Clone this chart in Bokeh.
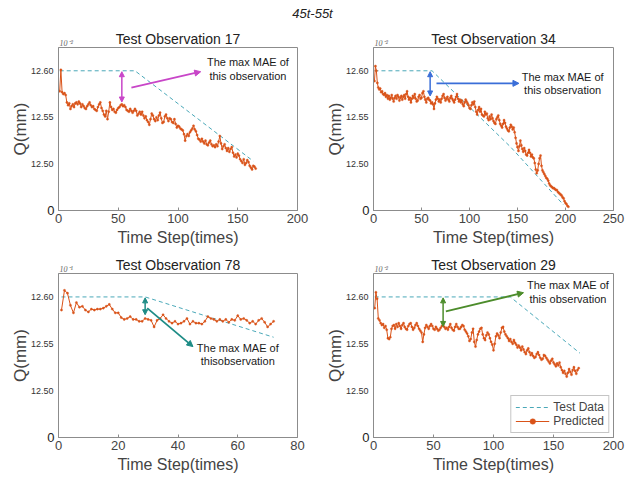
from bokeh.plotting import figure
from bokeh.models import (Range1d, FixedTicker, LinearAxis, Arrow, NormalHead, Label,
                          Legend, LegendItem, Div, ColumnDataSource, Title)
from bokeh.layouts import column, row
from bokeh.embed import file_html
from bokeh.resources import INLINE

FONT = "Liberation Sans"
PRED_COLOR = "#D95319"
TEST_COLOR = "#4AA8B8"
AXIS_COLOR = "#8c8c8c"

# ---------------- data (Q in mm) ----------------
y_tick_labels = {0: "0", 1: "12.50", 2: "12.55", 3: "12.60"}
Q_BASE = 12.45   # value sitting at the "0" tick
Q_STEP = 0.05    # value per tick interval

obs17_pred = [
    12.578, 12.601, 12.577, 12.575, 12.576, 12.574, 12.566, 12.563, 12.565, 12.559,
    12.562, 12.564, 12.561, 12.565, 12.566, 12.564, 12.567, 12.565, 12.561, 12.564,
    12.562, 12.560, 12.559, 12.562, 12.564, 12.566, 12.563, 12.561, 12.562, 12.559,
    12.558, 12.557, 12.561, 12.564, 12.566, 12.560, 12.557, 12.553, 12.551, 12.557,
    12.548, 12.556, 12.566, 12.561, 12.558, 12.559, 12.556, 12.555, 12.558, 12.560,
    12.561, 12.563, 12.564, 12.562, 12.563, 12.561, 12.558, 12.557, 12.556, 12.559,
    12.557, 12.555, 12.557, 12.559, 12.557, 12.552, 12.554, 12.556, 12.553, 12.556,
    12.552, 12.549, 12.551, 12.547, 12.545, 12.542, 12.548, 12.554, 12.552, 12.548,
    12.546, 12.550, 12.547, 12.552, 12.555, 12.549, 12.544, 12.545, 12.551, 12.553,
    12.549, 12.546, 12.549, 12.548, 12.545, 12.544, 12.548, 12.543, 12.539, 12.541,
    12.540, 12.538, 12.537, 12.536, 12.532, 12.525, 12.530, 12.532, 12.530, 12.534,
    12.536, 12.538, 12.541, 12.537, 12.535, 12.531, 12.527, 12.526, 12.524, 12.527,
    12.524, 12.522, 12.525, 12.521, 12.520, 12.523, 12.525, 12.521, 12.519, 12.520,
    12.518, 12.521, 12.519, 12.524, 12.530, 12.522, 12.516, 12.519, 12.521, 12.517,
    12.514, 12.517, 12.513, 12.516, 12.518, 12.512, 12.508, 12.510, 12.507, 12.511,
    12.509, 12.505, 12.503, 12.501, 12.505, 12.499, 12.501, 12.504, 12.502, 12.498,
    12.496, 12.494, 12.498, 12.497, 12.495,
]
obs17_test_t = [1, 64, 163]
obs17_test_q = [12.600, 12.600, 12.503]

obs34_pred = [
    12.589, 12.605, 12.600, 12.587, 12.582, 12.580, 12.581, 12.577, 12.578, 12.575,
    12.574, 12.576, 12.572, 12.574, 12.570, 12.573, 12.569, 12.571, 12.574, 12.570,
    12.567, 12.571, 12.573, 12.570, 12.574, 12.572, 12.568, 12.571, 12.573, 12.569,
    12.572, 12.574, 12.570, 12.575, 12.578, 12.572, 12.569, 12.571, 12.566, 12.570,
    12.573, 12.571, 12.575, 12.570, 12.567, 12.568, 12.572, 12.574, 12.570, 12.571,
    12.576, 12.578, 12.572, 12.569, 12.566, 12.570, 12.571, 12.569, 12.568, 12.565,
    12.566, 12.564, 12.559, 12.565, 12.569, 12.572, 12.570, 12.567, 12.569, 12.566,
    12.570, 12.573, 12.575, 12.571, 12.568, 12.570, 12.572, 12.569, 12.567, 12.571,
    12.573, 12.570, 12.568, 12.566, 12.569, 12.572, 12.575, 12.570, 12.567, 12.569,
    12.566, 12.568, 12.564, 12.562, 12.566, 12.569, 12.567, 12.565, 12.563, 12.560,
    12.559, 12.563, 12.566, 12.564, 12.567, 12.561, 12.556, 12.553, 12.558, 12.561,
    12.556, 12.559, 12.553, 12.552, 12.551, 12.556, 12.553, 12.554, 12.549, 12.547,
    12.551, 12.548, 12.553, 12.549, 12.546, 12.544, 12.543, 12.548, 12.550, 12.552,
    12.547, 12.543, 12.541, 12.539, 12.543, 12.547, 12.544, 12.540, 12.538, 12.536,
    12.535, 12.539, 12.542, 12.540, 12.537, 12.539, 12.534, 12.528, 12.522, 12.518,
    12.514, 12.519, 12.525, 12.520, 12.516, 12.513, 12.517, 12.514, 12.510, 12.509,
    12.512, 12.515, 12.512, 12.508, 12.510, 12.507, 12.506, 12.501, 12.494, 12.490,
    12.493, 12.500, 12.506, 12.509, 12.498, 12.493, 12.491, 12.489, 12.487, 12.485,
    12.484, 12.482, 12.479, 12.477, 12.476, 12.475, 12.474, 12.474, 12.473, 12.472,
    12.472, 12.470, 12.469, 12.468, 12.467, 12.466, 12.464, 12.463, 12.460, 12.458,
    12.457, 12.455, 12.454,
]
obs34_test_t = [1, 61, 143, 198]
obs34_test_q = [12.600, 12.600, 12.518, 12.456]

obs78_pred = [
    12.586, 12.607, 12.604, 12.591, 12.583, 12.594, 12.589, 12.590, 12.586, 12.584,
    12.587, 12.586, 12.587, 12.587, 12.588, 12.590, 12.592, 12.587, 12.583, 12.583,
    12.578, 12.576, 12.577, 12.579, 12.576, 12.576, 12.574, 12.574, 12.577, 12.576,
    12.575, 12.568, 12.575, 12.577, 12.581, 12.577, 12.574, 12.572, 12.574, 12.571,
    12.572, 12.574, 12.577, 12.571, 12.574, 12.572, 12.572, 12.571, 12.574, 12.579,
    12.577, 12.576, 12.574, 12.576, 12.574, 12.576, 12.573, 12.576, 12.575, 12.580,
    12.576, 12.577, 12.575, 12.572, 12.574, 12.571, 12.575, 12.577, 12.573, 12.568,
    12.571, 12.574,
]
obs78_test_t = [1, 29, 72]
obs78_test_q = [12.600, 12.600, 12.557]

obs29_pred = [
    12.588, 12.605, 12.598, 12.577, 12.575, 12.572, 12.570, 12.571, 12.567, 12.569,
    12.565, 12.556, 12.555, 12.557, 12.566, 12.569, 12.570, 12.566, 12.571, 12.568,
    12.572, 12.569, 12.566, 12.570, 12.572, 12.568, 12.566, 12.565, 12.569, 12.571,
    12.572, 12.568, 12.565, 12.567, 12.570, 12.572, 12.569, 12.566, 12.564, 12.562,
    12.552, 12.560, 12.567, 12.570, 12.568, 12.566, 12.569, 12.571, 12.569, 12.566,
    12.565, 12.568, 12.566, 12.564, 12.565, 12.567, 12.569, 12.570, 12.568, 12.566,
    12.567, 12.565, 12.568, 12.571, 12.567, 12.565, 12.564, 12.568, 12.571, 12.568,
    12.566, 12.566, 12.568, 12.570, 12.569, 12.565, 12.563, 12.561, 12.558, 12.553,
    12.555, 12.562, 12.566, 12.552, 12.547, 12.554, 12.560, 12.563, 12.566, 12.567,
    12.560, 12.556, 12.554, 12.559, 12.562, 12.560, 12.556, 12.552, 12.549, 12.543,
    12.550, 12.558, 12.561, 12.559, 12.556, 12.562, 12.567, 12.568, 12.563, 12.560,
    12.558, 12.556, 12.553, 12.555, 12.552, 12.550, 12.554, 12.551, 12.549, 12.546,
    12.548, 12.546, 12.543, 12.547, 12.544, 12.541, 12.539, 12.543, 12.545, 12.541,
    12.538, 12.540, 12.537, 12.535, 12.536, 12.539, 12.541, 12.538, 12.535, 12.533,
    12.534, 12.538, 12.537, 12.535, 12.533, 12.531, 12.529, 12.532, 12.534, 12.530,
    12.528, 12.526, 12.529, 12.527, 12.530, 12.525, 12.522, 12.519, 12.521, 12.518,
    12.515, 12.519, 12.523, 12.520, 12.517, 12.522, 12.525, 12.521, 12.518, 12.522,
    12.524,
]
obs29_test_t = [1, 114, 172]
obs29_test_q = [12.600, 12.600, 12.540]


def pos(q):
    """Q value -> position on the evenly spaced tick axis."""
    return [(v - Q_BASE) / Q_STEP for v in q]


def make_fig(title, x_end, x_ticks, pred, test_t, test_q, exp_text,
             width, height, b_left, b_right, b_top, b_bottom):
    p = figure(width=width, height=height, x_range=Range1d(0, x_end), y_range=Range1d(0, 3.5),
               output_backend="svg", toolbar_location=None,
               min_border_left=b_left, min_border_right=b_right,
               min_border_top=b_top, min_border_bottom=b_bottom)
    # small exponent note just above the frame (inner "above" panel)
    p.add_layout(Title(text=exp_text, align="left", offset=1, standoff=0,
                       text_font="Liberation Serif", text_font_size="8px",
                       text_font_style="italic", text_color="#666666"), "above")
    p.title.text = title
    p.title.align = "center"
    p.title.text_font = FONT
    p.title.text_font_size = "14px"
    p.title.text_font_style = "normal"
    p.title.text_color = "#222222"
    p.title.standoff = -20
    p.grid.visible = False
    p.outline_line_color = AXIS_COLOR
    p.background_fill_color = "white"
    p.border_fill_color = "white"

    xa = p.xaxis[0]
    xa.ticker = FixedTicker(ticks=x_ticks)
    xa.axis_label = "Time Step(times)"
    xa.axis_label_text_font = FONT
    xa.axis_label_text_font_size = "16px"
    xa.axis_label_text_font_style = "normal"
    xa.axis_label_standoff = 3
    xa.major_label_text_font = FONT
    xa.major_label_text_font_size = "13px"
    xa.major_label_standoff = 3
    xa.major_tick_in = 3
    xa.major_tick_out = 0
    xa.minor_tick_line_color = None
    xa.axis_line_color = AXIS_COLOR
    xa.major_tick_line_color = AXIS_COLOR

    # inner left axis: only the "0" tick label, in the larger font
    ya = p.yaxis[0]
    ya.ticker = FixedTicker(ticks=[0])
    ya.major_label_overrides = {0: y_tick_labels[0]}
    ya.major_label_text_font = FONT
    ya.major_label_text_font_size = "13px"
    ya.major_label_text_color = "#222222"
    ya.major_label_standoff = 4
    ya.major_tick_in = 0
    ya.major_tick_out = 0
    ya.minor_tick_line_color = None
    ya.axis_line_color = AXIS_COLOR

    # outer left axis: the small 12.xx labels and the axis title
    oa = LinearAxis(ticker=FixedTicker(ticks=[1, 2, 3]),
                    major_label_overrides={k: v for k, v in y_tick_labels.items() if k != 0},
                    major_label_text_font=FONT, major_label_text_font_size="9px",
                    major_label_text_color="#333333", major_label_standoff=-9,
                    major_tick_in=0, major_tick_out=0, minor_tick_line_color=None,
                    axis_line_color=None, major_tick_line_color=None,
                    axis_label="Q(mm)", axis_label_text_font=FONT,
                    axis_label_text_font_size="17px", axis_label_text_font_style="normal",
                    axis_label_standoff=-2)
    p.add_layout(oa, "left")

    t = list(range(1, len(pred) + 1))
    src = ColumnDataSource(dict(t=t, y=pos(pred)))
    tsrc = ColumnDataSource(dict(t=test_t, y=pos(test_q)))
    r_test = p.line("t", "y", source=tsrc, line_color=TEST_COLOR, line_width=1, line_dash="4 3")
    r_line = p.line("t", "y", source=src, line_color=PRED_COLOR, line_width=1)
    r_dot = p.scatter("t", "y", source=src, size=2.2, fill_color=PRED_COLOR,
                      line_color=PRED_COLOR, line_width=0.4)
    return p, r_test, r_line, r_dot


def add_mae(p, color, vx, vtop, vbot, ax0, ay0, ax1, ay1, tx, ty1, ty2, lines):
    p.add_layout(Arrow(start=NormalHead(size=5, fill_color=color, line_color=color),
                       end=NormalHead(size=5, fill_color=color, line_color=color),
                       x_start=vx, y_start=vtop, x_end=vx, y_end=vbot,
                       line_color=color, line_width=1.5))
    p.add_layout(Arrow(end=NormalHead(size=6, fill_color=color, line_color=color),
                       x_start=ax0, y_start=ay0, x_end=ax1, y_end=ay1,
                       line_color=color, line_width=1.8))
    for txt, ty in zip(lines, (ty1, ty2)):
        p.add_layout(Label(x=tx, y=ty, text=txt, text_align="center", text_baseline="middle",
                           text_font=FONT, text_font_size="11px", text_color="#1a1a1a"))


# ---------------- layout geometry ----------------
TOP_H, BOT_H = 228, 225
L_W, R_W = 312, 313

p1, *_ = make_fig("Test Observation 17", 200, [0, 50, 100, 150, 200], obs17_pred,
                  obs17_test_t, obs17_test_q, "10⁻²", L_W, TOP_H, 58, 15, 23, 42)
add_mae(p1, "#C846C8", 53, 2.98, 2.33, 61, 2.64, 119, 2.98, 158.5, 3.18, 2.89,
        ["The max MAE of", "this observation"])

p2, *_ = make_fig("Test Observation 34", 250, [0, 50, 100, 150, 200, 250], obs34_pred,
                  obs34_test_t, obs34_test_q, "10⁻²", R_W, TOP_H, 61, 12, 23, 42)
add_mae(p2, "#3A6ED8", 59, 2.98, 2.46, 65.6, 2.73, 151.5, 2.73, 197, 2.87, 2.59,
        ["The max MAE of", "this observation"])

p3, *_ = make_fig("Test Observation 78", 80, [0, 20, 40, 60, 80], obs78_pred,
                  obs78_test_t, obs78_test_q, "10⁻¹", L_W, BOT_H, 58, 15, 21, 40)
add_mae(p3, "#1E8C86", 29, 2.98, 2.62, 29.7, 2.76, 45.0, 1.94, 60, 1.92, 1.635,
        ["The max MAE of", "thisobservation"])

p4, r_test, r_line, r_dot = make_fig("Test Observation 29", 200, [0, 50, 100, 150, 200], obs29_pred,
                                     obs29_test_t, obs29_test_q, "10⁻²", R_W, BOT_H, 61, 12, 21, 40)
add_mae(p4, "#4C8C2B", 58, 2.98, 2.37, 60.3, 2.69, 125, 3.09, 162, 3.26, 2.95,
        ["The max MAE of", "this observation"])

legend = Legend(items=[LegendItem(label="Test Data", renderers=[r_test]),
                       LegendItem(label="Predicted", renderers=[r_line, r_dot])],
                location="bottom_right")
legend.label_text_font = FONT
legend.label_text_font_size = "12px"
legend.glyph_width = 34
legend.glyph_height = 14
legend.label_standoff = 4
legend.spacing = 0
legend.padding = 4
legend.margin = 4
legend.border_line_color = AXIS_COLOR
legend.label_height = 14
p4.add_layout(legend)

header = Div(text="45t-55t", width=625, height=24, margin=(0, 0, 0, 0),
             styles={"font-family": FONT, "font-style": "italic", "font-size": "13px",
                     "text-align": "center", "width": "625px", "line-height": "24px",
                     "padding-top": "2px", "color": "#222222"})

layout = column(header, row(p1, p2), row(p3, p4))
open("out.html", "w").write(file_html(layout, INLINE))
